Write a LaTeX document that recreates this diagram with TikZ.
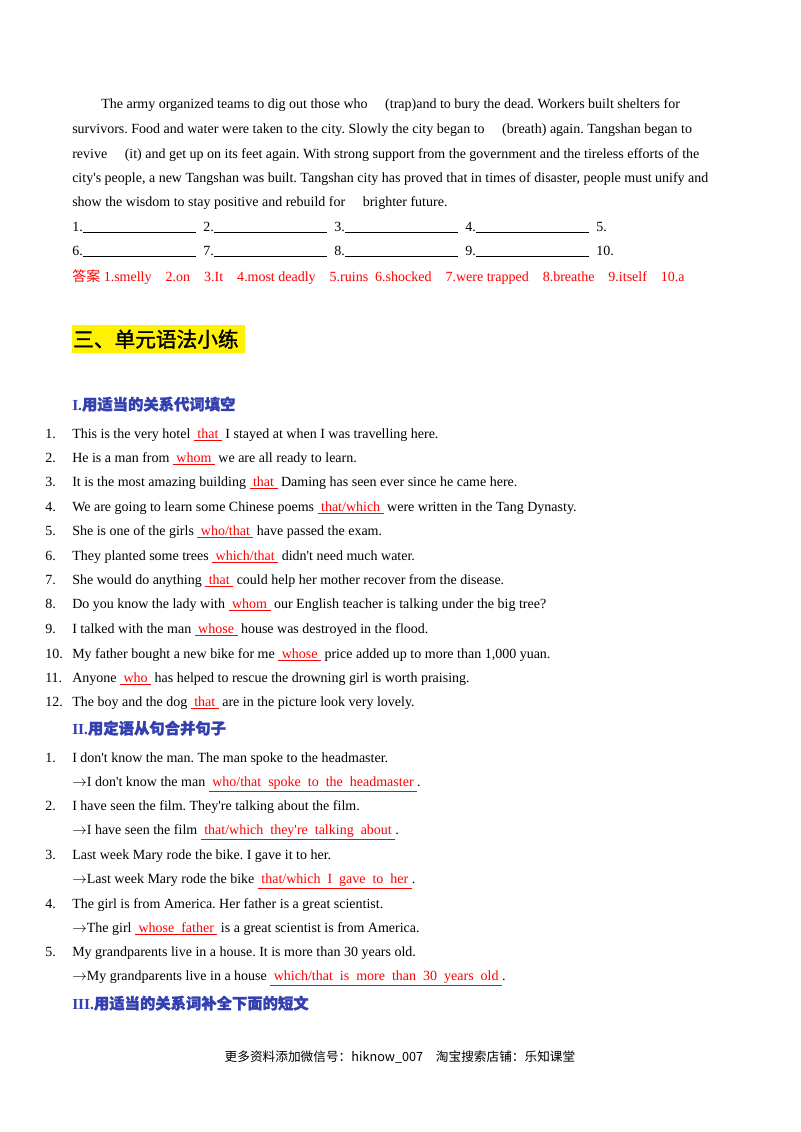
\documentclass[tikz,border=0pt]{standalone}
\usepackage{fontspec}
\setmainfont{Liberation Serif}
\newfontfamily\cjk{Noto Sans CJK SC}
\newfontfamily\cjkb[FakeBold=1.5]{Noto Sans CJK SC}
\definecolor{hblue}{RGB}{52,64,176}
\newcommand{\an}[1]{\textcolor{red}{\underline{\ #1\ }}}
\newcommand{\bl}{\rule[-1.5pt]{85pt}{0.6pt}}
\begin{document}
\frenchspacing
\begin{tikzpicture}[x=0.75pt,y=-0.75pt,
 t/.style={anchor=base west,inner sep=0pt,font=\fontsize{10.5}{12}\selectfont}]
\useasboundingbox (0,0) rectangle (800,1132);
\fill[white] (0,0) rectangle (800,1132);
\node[t] (p1) at (101,108) {The army organized teams to dig out those who \quad(trap)and to bury the dead. Workers built shelters for};
\node[t] (p2) at (72,133) {survivors. Food and water were taken to the city. Slowly the city began to \quad(breath) again. Tangshan began to};
\node[t] (p3) at (72,158) {revive \quad(it) and get up on its feet again. With strong support from the government and the tireless efforts of the};
\node[t] (p4) at (72,182) {city\textquotesingle s people, a new Tangshan was built. Tangshan city has proved that in times of disaster, people must unify and};
\node[t] (p5) at (72,206) {show the wisdom to stay positive and rebuild for \quad brighter future.};
\foreach \n/\x in {1/72,2/203,3/334,4/465}{\node[t] at (\x,231) {\n.\bl};}
\node[t] at (596,231) {5.};
\foreach \n/\x in {6/72,7/203,8/334,9/465}{\node[t] at (\x,255) {\n.\bl};}
\node[t] at (596,255) {10.};
\node[t,text=red] (ans) at (72,281) {{\cjk 答案} 1.smelly\quad 2.on\quad 3.It\quad 4.most deadly\quad 5.ruins\ \ 6.shocked\quad 7.were trapped\quad 8.breathe\quad 9.itself\quad 10.a};
\fill[yellow] (72,325) rectangle (245,353);
\node[anchor=base west,inner sep=0pt,font=\cjkb\fontsize{15.5}{18}\selectfont] (h3) at (73,347) {三、单元语法小练};
\node[t,text=hblue,font=\bfseries\fontsize{11.5}{13}\selectfont] (hI) at (72,410) {I.{\cjkb 用适当的关系代词填空}};
\foreach \n/\y/\s in {
 1/438/{This is the very hotel \an{that} I stayed at when I was travelling here.},
 2/462/{He is a man from \an{whom} we are all ready to learn.},
 3/486/{It is the most amazing building \an{that} Daming has seen ever since he came here.},
 4/511/{We are going to learn some Chinese poems \an{that/which} were written in the Tang Dynasty.},
 5/535/{She is one of the girls \an{who/that} have passed the exam.},
 6/560/{They planted some trees \an{which/that} didn\textquotesingle t need much water.},
 7/584/{She would do anything \an{that} could help her mother recover from the disease.},
 8/608/{Do you know the lady with \an{whom} our English teacher is talking under the big tree?},
 9/633/{I talked with the man \an{whose} house was destroyed in the flood.},
 10/658/{My father bought a new bike for me \an{whose} price added up to more than 1,000 yuan.},
 11/682/{Anyone \an{who} has helped to rescue the drowning girl is worth praising.},
 12/706/{The boy and the dog \an{that} are in the picture look very lovely.}}
 {\node[t] at (45,\y) {\n.}; \node[t] at (72,\y) {\s};}
\node[t,text=hblue,font=\bfseries\fontsize{11.5}{13}\selectfont] (hII) at (72,734) {II.{\cjkb 用定语从句合并句子}};
\foreach \n/\y/\s/\r in {
 1/762/{I don\textquotesingle t know the man. The man spoke to the headmaster.}/{$\rightarrow$I don\textquotesingle t know the man \an{who/that\ \ spoke\ \ to\ \ the\ \ headmaster}.},
 2/810/{I have seen the film. They\textquotesingle re talking about the film.}/{$\rightarrow$I have seen the film \an{that/which\ \ they\textquotesingle re\ \ talking\ \ about}.},
 3/859/{Last week Mary rode the bike. I gave it to her.}/{$\rightarrow$Last week Mary rode the bike \an{that/which\ \ I\ \ gave\ \ to\ \ her}.},
 4/908/{The girl is from America. Her father is a great scientist.}/{$\rightarrow$The girl \an{whose\ \ father} is a great scientist is from America.},
 5/956/{My grandparents live in a house. It is more than 30 years old.}/{$\rightarrow$My grandparents live in a house \an{which/that\ \ is\ \ more\ \ than\ \ 30\ \ years\ \ old}.}}
 {\node[t] at (45,\y) {\n.}; \node[t] at (72,\y) {\s}; \node[t] at (72,\y+24.5) {\r};}
\node[t,text=hblue,font=\bfseries\fontsize{11.5}{13}\selectfont] (hIII) at (72,1009) {III.{\cjkb 用适当的关系词补全下面的短文}};
\node[anchor=base,inner sep=0pt,font=\cjk\fontsize{9.5}{11}\selectfont] (foot) at (400,1061) {更多资料添加微信号：hiknow\_007\quad 淘宝搜索店铺：乐知课堂};
\end{tikzpicture}
\end{document}
